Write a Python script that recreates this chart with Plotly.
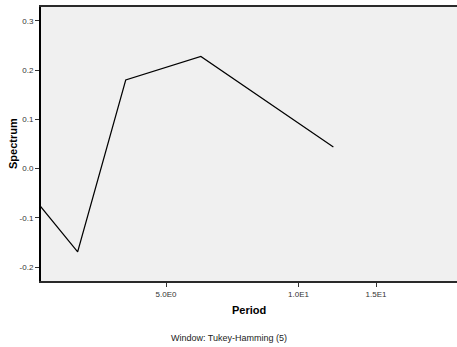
import plotly.graph_objects as go

# Spectral density estimate by period (Tukey-Hamming window, span 5)
period = [2.4, 3.15, 4.05, 6.0, 12.0]
spectrum = [-0.040, -0.169, 0.180, 0.228, 0.044]

x_tick_vals = [5, 10, 15]
x_tick_text = ["5.0E0", "1.0E1", "1.5E1"]
y_tick_vals = [-0.2, -0.1, 0.0, 0.1, 0.2, 0.3]
y_tick_text = ["-0.2", "-0.1", "0.0", "0.1", "0.2", "0.3"]

fig = go.Figure()
fig.add_trace(go.Scatter(
    x=period, y=spectrum, mode="lines",
    line=dict(color="black", width=1.2),
    showlegend=False, hoverinfo="skip",
))

tick_font = dict(family="Liberation Sans, Arial, sans-serif", size=8, color="#333333")

fig.update_layout(
    width=457, height=347,
    margin=dict(l=41, r=0, t=7, b=66),
    paper_bgcolor="white",
    plot_bgcolor="#F0F0F0",
    xaxis=dict(
        type="log",
        range=[0.415, 1.360],
        tickvals=x_tick_vals, ticktext=x_tick_text,
        ticks="outside", ticklen=4, tickwidth=1, tickcolor="#333333",
        tickfont=tick_font,
        showgrid=False, zeroline=False,
        showline=True, linecolor="#2a2a2a", linewidth=2, mirror=True,
    ),
    yaxis=dict(
        range=[-0.2284, 0.3284],
        tickvals=y_tick_vals, ticktext=y_tick_text,
        ticks="outside", ticklen=4, tickwidth=1, tickcolor="#333333",
        tickfont=tick_font,
        showgrid=False, zeroline=False,
        showline=True, linecolor="black", linewidth=2,
    ),
    annotations=[
        dict(text="<b>Spectrum</b>", textangle=-90, xref="paper", yref="paper",
             x=-0.0673, y=0.5, xanchor="center", yanchor="middle", showarrow=False,
             font=dict(family="Liberation Sans, Arial, sans-serif", size=11, color="black")),
        dict(text="<b>Period</b>", xref="paper", yref="paper",
             x=0.5, y=-0.106, xanchor="center", yanchor="middle", showarrow=False,
             font=dict(family="Liberation Sans, Arial, sans-serif", size=11, color="black")),
        dict(text="Window: Tukey-Hamming (5)", xref="paper", yref="paper",
             x=0.453, y=-0.208, xanchor="center", yanchor="middle", showarrow=False,
             font=dict(family="Liberation Sans, Arial, sans-serif", size=9, color="#222222")),
    ],
)

fig.write_html("out.html")
